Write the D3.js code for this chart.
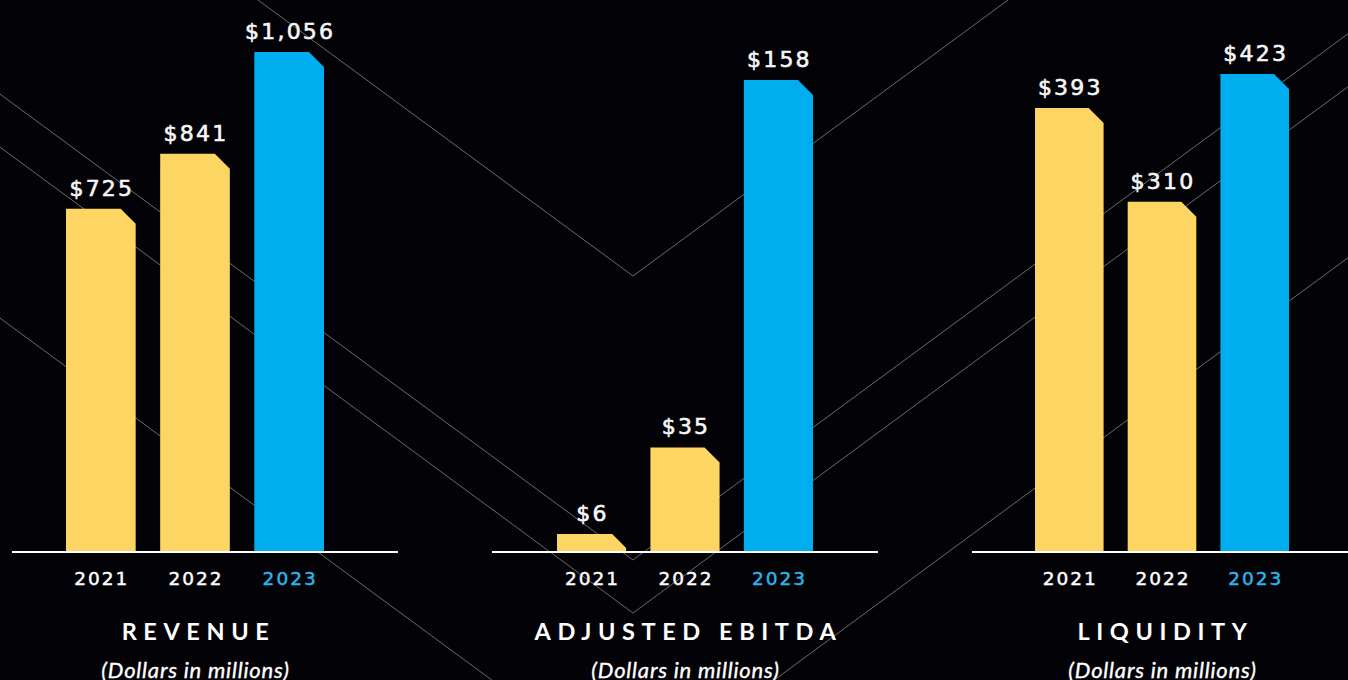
<!DOCTYPE html>
<html>
<head>
<meta charset="utf-8">
<script src="https://cdn.jsdelivr.net/npm/d3@7"></script>
<style>
  html, body { margin: 0; padding: 0; background: #030307; overflow: hidden; }
  svg { display: block; }
</style>
</head>
<body>
<svg id="chart"></svg>
<script>
// chart values
const years = ["2021", "2022", "2023"];
const revenue = [725, 841, 1056];
const ebitda = [6, 35, 158];
const liquidity = [393, 310, 423];
const titles = ["REVENUE", "ADJUSTED EBITDA", "LIQUIDITY"];
const subtitle = "(Dollars in millions)";

const width = 1348;
const height = 680;
const baseY = 552;
const yellow = "#fdd562";
const blue = "#00aeef";

// layout of each small chart
const panels = [
	{ values: revenue, title: titles[0], axis: [12, 398], bars: [66, 324], top: 52 },
	{ values: ebitda, title: titles[1], axis: [492, 878], bars: [557, 813], top: 80 },
	{ values: liquidity, title: titles[2], axis: [972, 1358], bars: [1035, 1289], top: 74 }
];

const svg = d3.select("#chart")
	.attr("width", width)
	.attr("height", height);

svg.append("rect")
	.attr("width", width)
	.attr("height", height)
	.attr("fill", "#030307");

// decorative chevrons in the background
const chevronX = 633;
const chevronY = [276, 560, 613, 784];
const slope = 0.736;
const chevron = d3.line();

svg.append("g")
	.selectAll("path")
	.data(chevronY)
	.join("path")
	.attr("fill", "none")
	.attr("stroke", "#6a6a6a")
	.attr("stroke-width", 1)
	.attr("d", vy => chevron([
		[0, vy - chevronX * slope],
		[chevronX, vy],
		[width, vy - (width - chevronX) * slope]
	]));

const fmt = d3.format("$,");

panels.forEach(p => {
	const data = years.map((year, i) => ({ year, value: p.values[i] }));

	const x = d3.scaleBand()
		.domain(years)
		.range(p.bars)
		.paddingInner(0.26)
		.paddingOuter(0);

	const y = d3.scaleLinear()
		.domain([0, d3.max(p.values)])
		.range([baseY, p.top]);

	const g = svg.append("g");
	const bw = x.bandwidth();

	// bars with a clipped top-right corner
	g.selectAll("path.bar")
		.data(data)
		.join("path")
		.attr("class", "bar")
		.attr("fill", d => d.year === "2023" ? blue : yellow)
		.attr("d", d => {
			const x0 = x(d.year), x1 = x0 + bw;
			const y0 = y(d.value), y1 = y(0);
			const c = Math.min(15, y1 - y0 - 4);
			return `M${x0},${y1}V${y0}H${x1 - c}L${x1},${y0 + c}V${y1}Z`;
		});

	// value labels
	g.selectAll("text.value")
		.data(data)
		.join("text")
		.attr("class", "value")
		.attr("x", d => x(d.year) + bw / 2 + 1)
		.attr("y", d => y(d.value) - 13)
		.attr("text-anchor", "middle")
		.attr("fill", "#f7f7f7")
		.attr("stroke", "#f7f7f7")
		.attr("stroke-width", 0.6)
		.style("font-family", "'DejaVu Sans', sans-serif")
		.style("font-size", "22px")
		.style("letter-spacing", "2.2px")
		.text(d => fmt(d.value));

	// baseline
	g.append("line")
		.attr("x1", p.axis[0])
		.attr("x2", p.axis[1])
		.attr("y1", baseY)
		.attr("y2", baseY)
		.attr("stroke", "#ffffff")
		.attr("stroke-width", 2.2);

	// year labels
	g.selectAll("text.year")
		.data(data)
		.join("text")
		.attr("class", "year")
		.attr("x", d => x(d.year) + bw / 2 + 1)
		.attr("y", 585)
		.attr("text-anchor", "middle")
		.attr("fill", d => d.year === "2023" ? "#2bb6ea" : "#ffffff")
		.attr("stroke", d => d.year === "2023" ? "#2bb6ea" : "#ffffff")
		.attr("stroke-width", 0.45)
		.style("font-family", "'DejaVu Sans', sans-serif")
		.style("font-size", "18.5px")
		.style("letter-spacing", "2px")
		.text(d => d.year);

	const cx = (p.bars[0] + p.bars[1]) / 2;

	g.append("text")
		.attr("x", cx + 3.5)
		.attr("y", 640)
		.attr("text-anchor", "middle")
		.attr("fill", "#ffffff")
		.style("font-family", "Lato, sans-serif")
		.style("font-weight", "700")
		.style("font-size", "23.5px")
		.style("letter-spacing", "6.6px")
		.text(p.title);

	g.append("text")
		.attr("x", cx + 0.5)
		.attr("y", 678)
		.attr("text-anchor", "middle")
		.attr("fill", "#ffffff")
		.attr("stroke", "#ffffff")
		.attr("stroke-width", 0.35)
		.style("font-family", "Lato, sans-serif")
		.style("font-style", "italic")
		.style("font-size", "22px")
		.style("letter-spacing", "0.8px")
		.text(subtitle);
});
</script>
</body>
</html>
